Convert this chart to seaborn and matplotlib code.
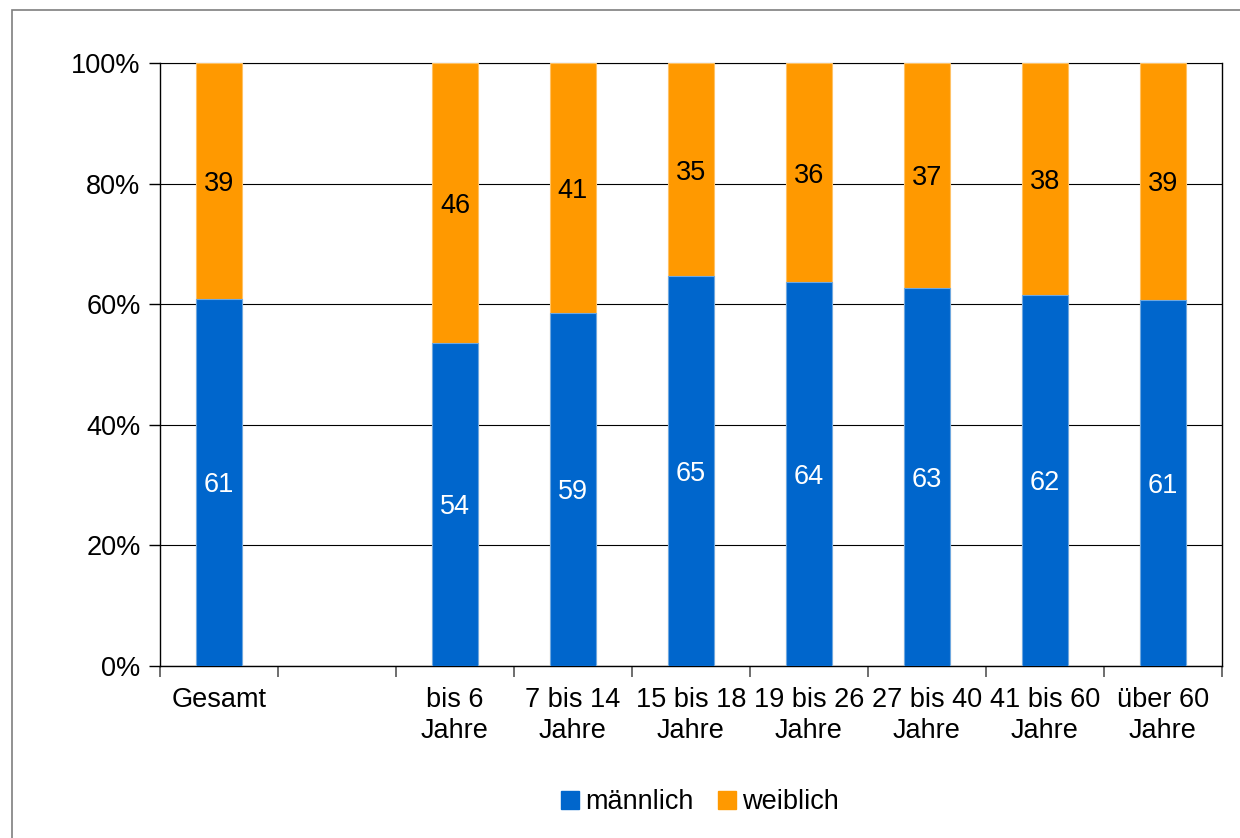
import numpy as np
import pandas as pd
import seaborn as sns
import matplotlib.pyplot as plt
from matplotlib.patches import Rectangle
from matplotlib.lines import Line2D
from matplotlib.ticker import FuncFormatter

sns.set_style("white")
plt.rcParams['font.family'] = ['Liberation Sans', 'DejaVu Sans']
plt.rcParams['text.color'] = 'black'
plt.rcParams['xtick.color'] = 'black'
plt.rcParams['ytick.color'] = 'black'

# Daten
kategorien = ["Gesamt", "bis 6\nJahre", "7 bis 14\nJahre", "15 bis 18\nJahre",
              "19 bis 26\nJahre", "27 bis 40\nJahre", "41 bis 60\nJahre", "über 60\nJahre"]
maennlich = [60.9, 53.6, 58.6, 64.6, 63.6, 62.7, 61.6, 60.7]
weiblich = [39.1, 46.4, 41.4, 35.4, 36.4, 37.3, 38.4, 39.3]
# Reihenfolge mit Leerplatz nach "Gesamt"
reihenfolge = ["Gesamt", " "] + kategorien[1:]

blau = '#0066CC'
orange = '#FF9900'
fs = 19.5

df = pd.DataFrame({'kat': kategorien, 'm': maennlich, 'w': weiblich})
df['gesamt'] = df['m'] + df['w']

fig = plt.figure(figsize=(12.4, 8.38), dpi=100)
ax = fig.add_axes([160 / 1240, 1 - 666 / 838, (1222 - 160) / 1240, (666 - 63) / 838])

sns.barplot(data=df, x='kat', y='gesamt', order=reihenfolge, color=orange,
            saturation=1, width=0.396, ax=ax, edgecolor='#FFC266', linewidth=0.8, zorder=3)
sns.barplot(data=df, x='kat', y='m', order=reihenfolge, color=blau,
            saturation=1, width=0.396, ax=ax, edgecolor='#6FA8E0', linewidth=0.8, zorder=3)

# Beschriftung der Segmente
pos = {k: i for i, k in enumerate(reihenfolge)}
for _, r in df.iterrows():
    x = pos[r['kat']]
    ax.text(x, r['m'] / 2, f"{r['m']:.0f}", ha='center', va='center_baseline',
            color='white', fontsize=fs, zorder=4)
    ax.text(x, r['m'] + r['w'] / 2, f"{r['w']:.0f}", ha='center', va='center_baseline',
            color='black', fontsize=fs, zorder=4)

ax.set_xlim(-0.5, len(reihenfolge) - 0.5)
ax.set_ylim(0, 100)
ax.set_yticks(np.arange(0, 101, 20))
ax.yaxis.set_major_formatter(FuncFormatter(lambda v, p: f"{v:.0f}%"))
ax.grid(axis='y', color='black', linewidth=0.8, zorder=0)
ax.set_axisbelow(True)

ax.set_xticks(range(len(reihenfolge)))
ax.set_xticklabels([k if k.strip() else "" for k in reihenfolge], fontsize=fs, va='top',
                   linespacing=1.25)
ax.set_xticks(np.arange(-0.5, len(reihenfolge)), minor=True)
ax.tick_params(axis='x', which='major', bottom=True, length=0, pad=15)
ax.tick_params(axis='x', which='minor', bottom=True, length=8, color='#555555', width=1.2,
               direction='out')
ax.tick_params(axis='y', left=True, length=8, color='black', width=1, direction='out',
               labelsize=fs, pad=6)
ax.set_xlabel("")
ax.set_ylabel("")
for s in ['left', 'bottom', 'right', 'top']:
    ax.spines[s].set_visible(True)
    ax.spines[s].set_color('black')
    ax.spines[s].set_linewidth(1)
ax.spines['top'].set_linewidth(0.8)

# Legende
handles = [Line2D([0], [0], marker='s', color='none', markerfacecolor=blau,
                  markeredgecolor=blau, markersize=13, label='männlich'),
           Line2D([0], [0], marker='s', color='none', markerfacecolor=orange,
                  markeredgecolor=orange, markersize=13, label='weiblich')]
fig.legend(handles=handles, loc='center', bbox_to_anchor=(700 / 1240, 1 - 802 / 838),
           ncol=2, frameon=False, fontsize=fs, handlelength=0.7, handletextpad=0.2,
           columnspacing=0.9)

# Rahmen um die Grafik
fig.patches.append(Rectangle((12 / 1240, -0.1), 1.2, 1 - 10 / 838 + 0.1,
                             transform=fig.transFigure, fill=False,
                             edgecolor='#7f7f7f', linewidth=1.2))

fig.savefig('out.png', dpi=100)
